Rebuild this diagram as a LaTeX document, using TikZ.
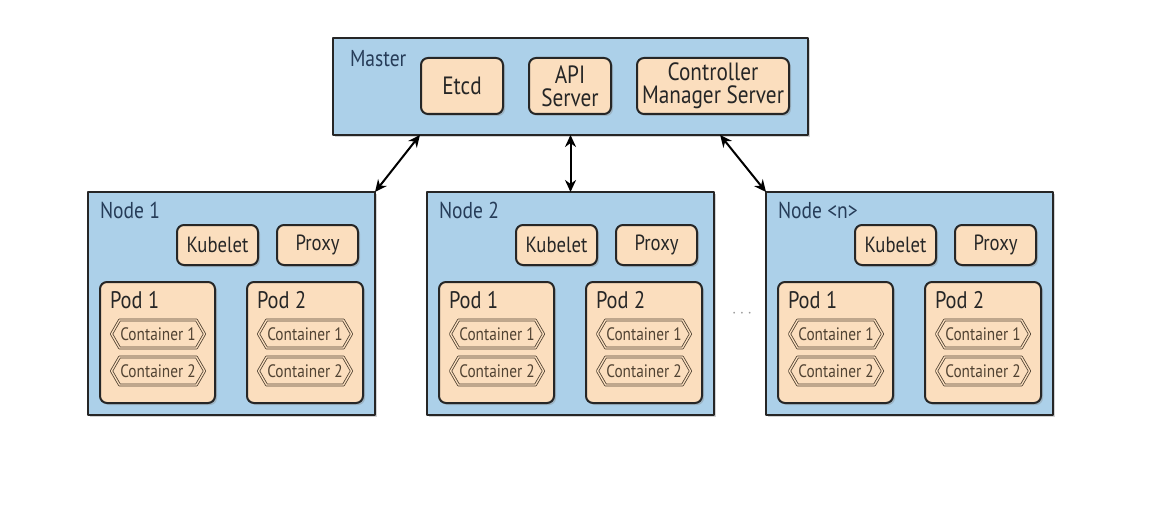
\documentclass[tikz,border=0pt]{standalone}
\usepackage{fontspec}
\setmainfont{PT Sans}[FakeStretch=0.85]
\usetikzlibrary{arrows.meta,shapes.symbols,shadows,calc}
\definecolor{hostblue}{RGB}{172,208,233}
\definecolor{partpeach}{RGB}{251,222,190}
\definecolor{labelblue}{RGB}{38,60,88}
\definecolor{inkbrown}{RGB}{80,66,50}
\begin{document}
\begin{tikzpicture}[x=1pt, y=-1pt, font=\fontsize{22}{24}\selectfont, line join=round,
    every node/.style={outer sep=0pt, inner sep=0pt},
    host/.style={draw=black!85, line width=2pt, fill=hostblue, anchor=north west, drop shadow={shadow xshift=2pt, shadow yshift=-2pt, opacity=0.35}},
    part/.style={draw=black!85, line width=2pt, fill=partpeach, rounded corners=7pt, anchor=north west, align=center, text=black!85, drop shadow={shadow xshift=2pt, shadow yshift=-2pt, opacity=0.35}},
    tag/.style={anchor=base west, text=labelblue, font=\fontsize{23}{25}\selectfont},
    podtag/.style={anchor=base west, text=black!85, font=\fontsize{24}{26}\selectfont},
    box/.style={signal, signal to=west and east, signal pointer angle=120, draw=inkbrown, line width=0.8pt, double=partpeach, double distance=1.3pt, fill=partpeach, minimum width=93pt, minimum height=28pt, text=inkbrown, font=\fontsize{18}{20}\selectfont},
    >={Stealth[length=12pt, width=11pt]}]
    \useasboundingbox (0,0) rectangle (1164,508);

    % master
    \node[host, minimum width=475pt, minimum height=97pt] (master) at (333,38) {};
    \node[tag] (mastertag) at (350,67) {Master};
    \node[part, minimum width=82pt, minimum height=56pt, font=\fontsize{25}{23}\selectfont] (etcd) at (421,58) {Etcd};
    \node[part, minimum width=82pt, minimum height=56pt, font=\fontsize{25}{23}\selectfont] (api) at (529,58) {API\\Server};
    \node[part, minimum width=152pt, minimum height=56pt, font=\fontsize{25}{23}\selectfont] (cms) at (637,58) {Controller\\Manager Server};

    % node 1
    \node[host, minimum width=287pt, minimum height=223pt] (node1) at (88,192) {};
    \node[tag] (node1tag) at (100,218) {Node 1};
    \node[part, minimum width=81pt, minimum height=40pt] (kubelet1) at (177,225) {Kubelet};
    \node[part, minimum width=81pt, minimum height=40pt] (proxy1) at (277,225) {Proxy};
    \node[part, minimum width=115pt, minimum height=121pt] (pod11) at (100,282) {};
    \node[part, minimum width=116pt, minimum height=121pt] (pod12) at (247,282) {};
    \node[podtag] (pod11tag) at (110,308) {Pod 1};
    \node[podtag] (pod12tag) at (257,308) {Pod 2};
    \node[box] (c111) at (158,334) {Container 1};
    \node[box] (c112) at (158,371) {Container 2};
    \node[box] (c121) at (305,334) {Container 1};
    \node[box] (c122) at (305,371) {Container 2};

    % node 2
    \node[host, minimum width=287pt, minimum height=223pt] (node2) at (427,192) {};
    \node[tag] (node2tag) at (439,218) {Node 2};
    \node[part, minimum width=81pt, minimum height=40pt] (kubelet2) at (516,225) {Kubelet};
    \node[part, minimum width=81pt, minimum height=40pt] (proxy2) at (616,225) {Proxy};
    \node[part, minimum width=115pt, minimum height=121pt] (pod21) at (439,282) {};
    \node[part, minimum width=116pt, minimum height=121pt] (pod22) at (586,282) {};
    \node[podtag] (pod21tag) at (449,308) {Pod 1};
    \node[podtag] (pod22tag) at (596,308) {Pod 2};
    \node[box] (c211) at (497,334) {Container 1};
    \node[box] (c212) at (497,371) {Container 2};
    \node[box] (c221) at (644,334) {Container 1};
    \node[box] (c222) at (644,371) {Container 2};

    \node[text=black!40, font=\fontsize{18}{18}\selectfont] (gap) at (742,314) {$\cdots$};

    % node n
    \node[host, minimum width=287pt, minimum height=223pt] (noden) at (766,192) {};
    \node[tag] (nodentag) at (778,218) {Node <n>};
    \node[part, minimum width=81pt, minimum height=40pt] (kubeletn) at (855,225) {Kubelet};
    \node[part, minimum width=81pt, minimum height=40pt] (proxyn) at (955,225) {Proxy};
    \node[part, minimum width=115pt, minimum height=121pt] (podn1) at (778,282) {};
    \node[part, minimum width=116pt, minimum height=121pt] (podn2) at (925,282) {};
    \node[podtag] (podn1tag) at (788,308) {Pod 1};
    \node[podtag] (podn2tag) at (935,308) {Pod 2};
    \node[box] (cn11) at (836,334) {Container 1};
    \node[box] (cn12) at (836,371) {Container 2};
    \node[box] (cn21) at (983,334) {Container 1};
    \node[box] (cn22) at (983,371) {Container 2};

    % links
    \draw[<->, line width=2pt] ($(master.south west)!0.183!(master.south east)$) -- (node1.north east);
    \draw[<->, line width=2pt] (master.south) -- (node2.north);
    \draw[<->, line width=2pt] ($(master.south west)!0.815!(master.south east)$) -- (noden.north west);
\end{tikzpicture}
\end{document}
